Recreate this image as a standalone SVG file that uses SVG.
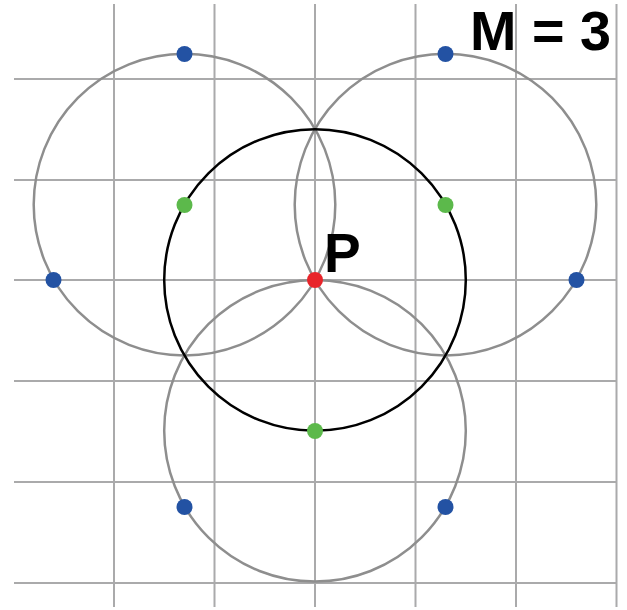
<svg xmlns="http://www.w3.org/2000/svg" width="627" height="610" viewBox="0 0 627 610">
<style>
.grid line{stroke:#aaaaab;stroke-width:2}
.gc{fill:none;stroke:#8e8e8e;stroke-width:2.5}
.bc{fill:none;stroke:#000;stroke-width:2.5}
.blue{fill:#2352a3}
.green{fill:#5cb94b}
.red{fill:#e8242a}
text{font-family:"Liberation Sans",Arial,sans-serif;font-weight:bold;fill:#000}
</style>
<rect width="627" height="610" fill="#fff"/>
<g id="grid" class="grid">
<line x1="114" y1="4" x2="114" y2="607"/>
<line x1="214.5" y1="4" x2="214.5" y2="607"/>
<line x1="315" y1="4" x2="315" y2="607"/>
<line x1="415.5" y1="4" x2="415.5" y2="607"/>
<line x1="516" y1="4" x2="516" y2="607"/>
<line x1="616.5" y1="4" x2="616.5" y2="607"/>
<line x1="14" y1="79" x2="617" y2="79"/>
<line x1="14" y1="180" x2="617" y2="180"/>
<line x1="14" y1="280" x2="617" y2="280"/>
<line x1="14" y1="381" x2="617" y2="381"/>
<line x1="14" y1="482" x2="617" y2="482"/>
<line x1="14" y1="583" x2="617" y2="583"/>
</g>
<g id="circles">
<circle class="gc" cx="184.5" cy="204.6" r="150.8"/>
<circle class="gc" cx="445.5" cy="204.6" r="150.8"/>
<circle class="gc" cx="315" cy="430.8" r="150.8"/>
<circle class="bc" cx="315" cy="280" r="150.8"/>
</g>
<g id="dots">
<circle class="blue" cx="184.5" cy="54" r="8"/>
<circle class="blue" cx="445.5" cy="54" r="8"/>
<circle class="blue" cx="53.5" cy="280" r="8"/>
<circle class="blue" cx="576.5" cy="280" r="8"/>
<circle class="blue" cx="184.5" cy="507" r="8"/>
<circle class="blue" cx="445.5" cy="507" r="8"/>
<circle class="green" cx="184.5" cy="205" r="8"/>
<circle class="green" cx="445.5" cy="205" r="8"/>
<circle class="green" cx="315" cy="431" r="8"/>
<circle class="red" cx="315" cy="280" r="8"/>
</g>
<g id="labels">
<text x="470" y="50" font-size="55" textLength="141" lengthAdjust="spacingAndGlyphs">M = 3</text>
<text x="324" y="272" font-size="55">P</text>
</g>
</svg>
